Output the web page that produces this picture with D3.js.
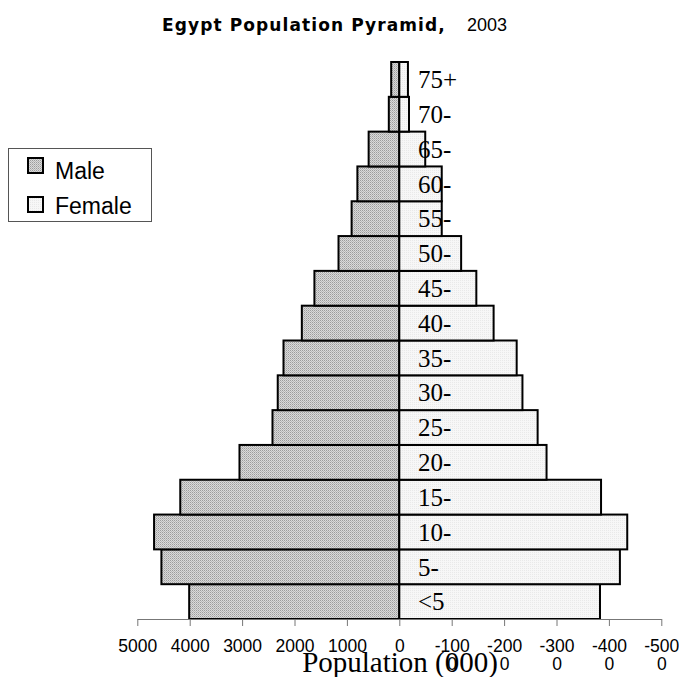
<!DOCTYPE html>
<html>
<head>
<meta charset="utf-8">
<script src="https://cdn.jsdelivr.net/npm/d3@7"></script>
<style>
  body { margin: 0; background: #fff; }
  svg { display: block; }
</style>
</head>
<body>
<div id="chart"></div>
<script>
// Age groups, bottom to top
const ageGroups = ["<5", "5-", "10-", "15-", "20-", "25-", "30-", "35-", "40-", "45-", "50-", "55-", "60-", "65-", "70-", "75+"];
// Population in thousands
const male = [4010, 4540, 4680, 4180, 3050, 2420, 2320, 2210, 1860, 1620, 1160, 910, 800, 585, 200, 155];
const female = [3830, 4210, 4350, 3850, 2810, 2640, 2350, 2240, 1800, 1470, 1180, 810, 810, 495, 185, 165];
const xTicks = [5000, 4000, 3000, 2000, 1000, 0, -1000, -2000, -3000, -4000, -5000];

const width = 679;
const height = 677;

const svg = d3.select("#chart")
    .append("svg")
    .attr("width", width)
    .attr("height", height);

// textured fills, like the old spreadsheet patterns
const defs = svg.append("defs");
const pMale = defs.append("pattern")
    .attr("id", "pMale")
    .attr("width", 2).attr("height", 2)
    .attr("patternUnits", "userSpaceOnUse");
pMale.append("rect").attr("width", 2).attr("height", 2).attr("fill", "#dadada");
pMale.append("rect").attr("width", 1).attr("height", 1).attr("fill", "#9c9c9c");
pMale.append("rect").attr("x", 1).attr("y", 1).attr("width", 1).attr("height", 1).attr("fill", "#b8b8b8");

const pFemale = defs.append("pattern")
    .attr("id", "pFemale")
    .attr("width", 2).attr("height", 2)
    .attr("patternUnits", "userSpaceOnUse");
pFemale.append("rect").attr("width", 2).attr("height", 2).attr("fill", "#f7f7f7");
pFemale.append("rect").attr("width", 1).attr("height", 1).attr("fill", "#e9e9e9");

// scales
const x = d3.scaleLinear()
    .domain([5000, -5000])
    .range([137.3, 661.3]);

const y = d3.scaleBand()
    .domain(ageGroups.slice().reverse())
    .range([62, 619])
    .padding(0);

// bars
const rows = svg.append("g")
    .selectAll("g")
    .data(ageGroups)
    .enter().append("g");

rows.append("rect")
    .attr("x", (d, i) => x(male[i]))
    .attr("y", d => y(d))
    .attr("width", (d, i) => x(0) - x(male[i]))
    .attr("height", y.bandwidth())
    .attr("fill", "url(#pMale)")
    .attr("stroke", "#000")
    .attr("stroke-width", 2);

rows.append("rect")
    .attr("x", x(0))
    .attr("y", d => y(d))
    .attr("width", (d, i) => x(-female[i]) - x(0))
    .attr("height", y.bandwidth())
    .attr("fill", "url(#pFemale)")
    .attr("stroke", "#000")
    .attr("stroke-width", 2);

// age labels
rows.append("text")
    .attr("x", 418)
    .attr("y", d => y(d) + y.bandwidth() / 2)
    .attr("dy", "0.35em")
    .style("font-family", "'Liberation Serif', 'Times New Roman', serif")
    .style("font-size", "25px")
    .text(d => d);

// x axis
const axis = svg.append("g")
    .attr("transform", `translate(0,${y.range()[1]})`)
    .call(d3.axisBottom(x).tickValues(xTicks).tickSize(7).tickSizeOuter(0).tickFormat(""));

axis.select(".domain").attr("stroke", "#777");
axis.selectAll(".tick line").attr("stroke", "#777");

// tick labels; the negative ones wrap onto a second line
const tickText = axis.selectAll(".tick")
    .append("text")
    .attr("fill", "#000")
    .style("font-family", "'Liberation Sans', Arial, sans-serif")
    .style("font-size", "17.5px")
    .attr("text-anchor", "middle");

tickText.each(function(d) {
    const s = String(d);
    const t = d3.select(this);
    if (d < 0) {
        t.append("tspan").attr("x", 0).attr("y", 32.5).text(s.slice(0, -1));
        t.append("tspan").attr("x", 0).attr("y", 51).text(s.slice(-1));
    } else {
        t.append("tspan").attr("x", 0).attr("y", 32.5).text(s);
    }
});

// axis title
svg.append("text")
    .attr("x", 400)
    .attr("y", 672)
    .attr("text-anchor", "middle")
    .style("font-family", "'Liberation Serif', 'Times New Roman', serif")
    .style("font-size", "29px")
    .text("Population (000)");

// chart title
const title = svg.append("text")
    .attr("x", 162)
    .attr("y", 31);
title.append("tspan")
    .style("font-family", "'Comic Sans MS', 'DejaVu Sans', sans-serif")
    .style("font-weight", "bold")
    .style("font-size", "17px")
    .style("letter-spacing", "1.1px")
    .text("Egypt Population Pyramid,");
title.append("tspan")
    .attr("x", 467)
    .style("font-family", "'Liberation Sans', Arial, sans-serif")
    .style("font-size", "18px")
    .text("2003");

// legend
const legend = svg.append("g");
legend.append("rect")
    .attr("x", 8.5).attr("y", 148.5)
    .attr("width", 143).attr("height", 73)
    .attr("fill", "#fff")
    .attr("stroke", "#555")
    .attr("stroke-width", 1);

const legendItems = [
    { label: "Male", fill: "url(#pMale)", top: 158, base: 179 },
    { label: "Female", fill: "url(#pFemale)", top: 197, base: 214 }
];

const li = legend.selectAll(".item")
    .data(legendItems)
    .enter().append("g")
    .attr("class", "item");

li.append("rect")
    .attr("x", 28)
    .attr("y", d => d.top)
    .attr("width", 15).attr("height", 15)
    .attr("fill", d => d.fill)
    .attr("stroke", "#000")
    .attr("stroke-width", 2);

li.append("text")
    .attr("x", 55)
    .attr("y", d => d.base)
    .style("font-family", "'Liberation Sans', Arial, sans-serif")
    .style("font-size", "23px")
    .text(d => d.label);
</script>
</body>
</html>
